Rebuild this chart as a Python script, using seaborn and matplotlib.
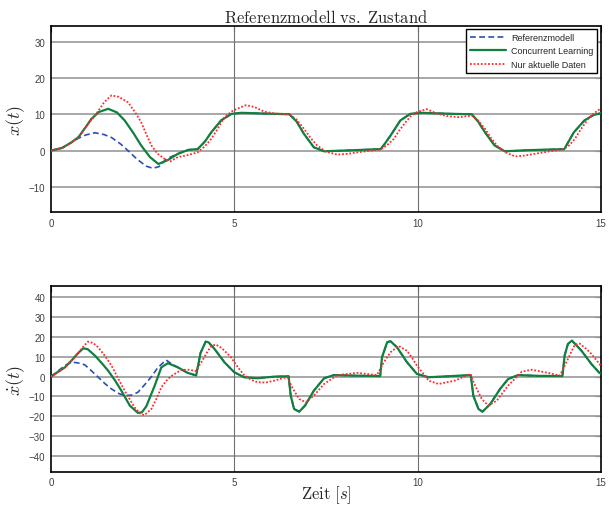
import numpy as np
import pandas as pd
import seaborn as sns
import matplotlib.pyplot as plt

# --- Werte ---
# x(t) oben
t_x_ref = [0.0, 0.3, 0.55, 0.75, 0.95, 1.2, 1.45, 1.65, 1.9, 2.1, 2.35, 2.6, 2.78, 2.95, 3.14, 3.3,
           3.46, 3.75, 4.0, 4.2, 4.37, 4.64, 4.92, 5.2, 5.8, 6.5, 6.7, 6.9, 7.17, 7.45, 8.0, 8.99,
           9.1, 9.26, 9.53, 9.8, 10.1, 11.0, 11.48, 11.65, 11.84, 12.1, 12.38, 13.0, 14.0,
           14.12, 14.26, 14.55, 14.8, 15.0]
x_ref = [0.0, 0.7, 2.2, 3.4, 4.3, 4.9, 4.4, 3.6, 1.8, 0.0, -2.4, -4.3, -4.9, -4.4, -2.4, -1.6,
         -0.9, 0.2, 0.4, 2.5, 5.0, 8.3, 10.1, 10.4, 10.2, 10.0, 8.0, 4.6, 0.9, -0.2, 0.0, 0.4,
         1.8, 4.1, 8.3, 10.1, 10.4, 10.1, 10.0, 8.0, 5.0, 1.4, -0.2, 0.1, 0.4,
         2.5, 5.0, 8.3, 9.8, 10.3]

t_x_cl = [0.0, 0.3, 0.55, 0.75, 0.95, 1.1, 1.3, 1.56, 1.8, 2.01, 2.25, 2.46, 2.7, 2.93, 3.19,
          3.46, 3.75, 4.0, 4.2, 4.37, 4.64, 4.92, 5.2, 5.8, 6.5, 6.7, 6.9, 7.17, 7.45, 8.0, 8.99,
          9.1, 9.26, 9.53, 9.8, 10.1, 11.0, 11.48, 11.65, 11.84, 12.1, 12.38, 13.0, 14.0,
          14.12, 14.26, 14.55, 14.8, 15.0]
x_cl = [0.0, 0.7, 2.2, 3.7, 6.5, 8.7, 10.6, 11.5, 10.5, 8.3, 4.8, 1.4, -1.8, -3.7, -2.6,
        -0.9, 0.2, 0.4, 2.5, 5.0, 8.3, 10.1, 10.4, 10.2, 10.0, 8.0, 4.6, 0.9, -0.2, 0.0, 0.4,
        1.8, 4.1, 8.3, 10.1, 10.4, 10.1, 10.0, 8.0, 5.0, 1.4, -0.2, 0.1, 0.4,
        2.5, 5.0, 8.3, 9.8, 10.3]

t_x_akt = [0.0, 0.3, 0.55, 0.75, 1.0, 1.2, 1.45, 1.65, 1.85, 2.1, 2.3, 2.46, 2.6, 2.74, 2.9,
           3.1, 3.25, 3.46, 3.75, 4.0, 4.2, 4.37, 4.55, 4.73, 4.95, 5.1, 5.32, 5.55, 5.82, 6.1,
           6.5, 6.7, 6.9, 7.08, 7.26, 7.5, 7.8, 8.1, 8.35, 8.99, 9.15, 9.35, 9.5, 9.67, 9.82,
           9.98, 10.25, 10.52, 10.8, 11.11, 11.48, 11.65, 11.84, 12.0, 12.16, 12.4, 12.66,
           12.9, 13.2, 13.6, 13.97, 14.12, 14.29, 14.45, 14.65, 14.8, 15.0]
x_akt = [0.0, 0.7, 2.2, 3.6, 7.2, 9.6, 13.3, 15.2, 14.8, 13.3, 10.5, 7.8, 4.5, 1.4, -0.8,
         -2.3, -3.0, -1.8, -1.2, -0.5, 1.2, 3.2, 6.0, 9.2, 10.9, 11.6, 12.5, 12.0, 10.7, 10.2,
         10.0, 8.5, 6.0, 3.5, 1.4, -0.3, -1.1, -0.9, -0.5, 0.3, 1.3, 3.2, 5.5, 7.8, 9.5,
         10.6, 11.4, 10.2, 9.5, 9.2, 9.6, 8.3, 6.0, 3.5, 1.4, -0.5, -1.6,
         -1.4, -0.9, -0.2, 0.3, 1.3, 3.2, 5.8, 8.7, 10.2, 11.6]

# xdot(t) unten
t_v_ref = [0.0, 0.2, 0.4, 0.56, 0.72, 0.92, 1.1, 1.29, 1.47, 1.65, 1.85, 2.01, 2.2, 2.37, 2.55,
           2.74, 2.92, 3.14, 3.3, 3.46, 3.73, 3.96, 4.08, 4.22, 4.3, 4.46, 4.73, 5.0, 5.27, 5.63,
           6.09, 6.48, 6.54, 6.63, 6.77, 6.93, 7.17, 7.45, 7.72, 8.3, 8.98, 9.03, 9.17, 9.26,
           9.44, 9.71, 9.98, 10.3, 10.84, 11.45, 11.52, 11.66, 11.77, 11.98, 12.25, 12.47,
           12.74, 13.3, 13.95, 14.01, 14.1, 14.21, 14.47, 14.74, 14.96, 15.0]
v_ref = [0.0, 3.0, 5.8, 7.3, 7.0, 6.0, 3.0, -0.3, -3.5, -6.2, -8.5, -9.6, -9.3, -7.9, -4.2,
         0.0, 4.7, 8.4, 6.3, 4.7, 1.9, 0.6, 12.0, 17.7, 17.3, 14.0, 7.3, 2.2, -0.3, -0.8,
         0.0, 0.2, -9.6, -16.3, -17.7, -14.6, -7.1, -0.8, 0.8, 0.5, 0.3, 9.8, 17.4, 17.9,
         14.8, 7.3, 1.4, -0.3, 0.2, 0.8, -9.6, -16.3, -17.7, -13.9, -6.2, -1.2,
         0.8, 0.4, 0.3, 10.6, 16.5, 18.2, 13.1, 6.4, 1.9, 1.6]

t_v_cl = [0.0, 0.2, 0.38, 0.56, 0.72, 0.88, 1.0, 1.2, 1.4, 1.56, 1.75, 1.92, 2.15, 2.37, 2.48,
          2.6, 2.83, 3.01, 3.19, 3.46, 3.73, 3.96, 4.08, 4.22, 4.3, 4.46, 4.73, 5.0, 5.27, 5.63,
          6.09, 6.48, 6.54, 6.63, 6.77, 6.93, 7.17, 7.45, 7.72, 8.3, 8.98, 9.03, 9.17, 9.26,
          9.44, 9.71, 9.98, 10.3, 10.84, 11.45, 11.52, 11.66, 11.77, 11.98, 12.25, 12.47,
          12.74, 13.3, 13.95, 14.01, 14.1, 14.21, 14.47, 14.74, 14.96, 15.0]
v_cl = [0.0, 2.5, 4.7, 8.1, 11.5, 14.3, 13.9, 10.6, 6.5, 3.0, -2.0, -7.1, -14.6, -18.3, -18.0,
        -15.0, -4.5, 4.7, 6.8, 4.7, 1.9, 0.6, 12.0, 17.7, 17.3, 14.0, 7.3, 2.2, -0.3, -0.8,
        0.0, 0.2, -9.6, -16.3, -17.7, -14.6, -7.1, -0.8, 0.8, 0.5, 0.3, 9.8, 17.4, 17.9,
        14.8, 7.3, 1.4, -0.3, 0.2, 0.8, -9.6, -16.3, -17.7, -13.9, -6.2, -1.2,
        0.8, 0.4, 0.3, 10.6, 16.5, 18.2, 13.1, 6.4, 1.9, 1.6]

t_v_akt = [0.0, 0.2, 0.38, 0.65, 0.85, 1.01, 1.15, 1.29, 1.47, 1.65, 1.82, 2.01, 2.15, 2.28,
           2.45, 2.55, 2.74, 2.88, 3.01, 3.15, 3.28, 3.55, 3.75, 3.95, 4.1, 4.25, 4.37, 4.5,
           4.65, 4.73, 4.9, 5.0, 5.15, 5.27, 5.45, 5.63, 5.85, 6.09, 6.45, 6.58, 6.77, 6.95,
           7.17, 7.45, 7.81, 8.35, 8.89, 9.08, 9.26, 9.48, 9.71, 9.85, 9.98, 10.16, 10.3,
           10.57, 11.02, 11.43, 11.57, 11.75, 11.93, 12.16, 12.47, 12.84, 13.11, 13.56, 13.88,
           14.1, 14.29, 14.42, 14.6, 14.74, 14.96, 15.0]
v_akt = [0.0, 2.5, 4.7, 9.8, 14.5, 17.7, 17.0, 14.8, 10.5, 5.6, -0.5, -7.1, -11.5, -15.5,
         -19.0, -19.4, -16.3, -11.0, -5.4, -2.0, 0.3, 3.4, 3.5, 2.9, 7.3, 12.0, 15.5, 16.2,
         14.5, 13.1, 10.0, 7.3, 3.5, 0.8, -1.5, -2.8, -3.0, -2.0, -0.2, -5.5, -11.3, -12.9,
         -9.6, -3.7, 0.8, 1.9, 0.8, 7.3, 12.3, 15.5, 13.1, 9.5, 5.6, 1.4, -2.0,
         -3.7, -2.0, 1.4, -4.5, -11.3, -14.6, -12.1, -4.5, 2.5, 3.5, 1.9, 0.5,
         8.9, 16.2, 16.7, 14.0, 11.5, 6.4, 5.5]

labels = ['Referenzmodell', 'Concurrent Learning', 'Nur aktuelle Daten']
farben = ['#2b4fb3', '#11803f', '#ff2a2a']
x_ticks = [0, 5, 10, 15]
y_ticks_oben = [-10, 0, 10, 20, 30]
y_ticks_unten = [-40, -30, -20, -10, 0, 10, 20, 30, 40]

sns.set_style('white')
plt.rcParams['font.family'] = ['Liberation Sans', 'DejaVu Sans']
plt.rcParams['mathtext.fontset'] = 'cm'

fig = plt.figure(figsize=(6.09, 5.10), dpi=100)
ax1 = fig.add_axes([0.0837, 0.5818, 0.903, 0.3659])
ax2 = fig.add_axes([0.0837, 0.0731, 0.903, 0.3635])

stile = [dict(linestyle=(0, (3.5, 2)), linewidth=1.2),
         dict(linestyle='-', linewidth=1.6),
         dict(linestyle=(0, (1, 1)), linewidth=1.3)]

serien_oben = [(t_x_ref, x_ref), (t_x_cl, x_cl), (t_x_akt, x_akt)]
serien_unten = [(t_v_ref, v_ref), (t_v_cl, v_cl), (t_v_akt, v_akt)]

for i, (t, y) in enumerate(serien_oben):
    df = pd.DataFrame({'t': t, 'y': y})
    sns.lineplot(data=df, x='t', y='y', ax=ax1, color=farben[i], label=labels[i],
                 sort=False, zorder=3 + i, **stile[i])
for i, (t, y) in enumerate(serien_unten):
    df = pd.DataFrame({'t': t, 'y': y})
    sns.lineplot(data=df, x='t', y='y', ax=ax2, color=farben[i], legend=False,
                 sort=False, zorder=3 + i, **stile[i])

for ax, yt, ylim in [(ax1, y_ticks_oben, (-17, 34.4)), (ax2, y_ticks_unten, (-48, 45.6))]:
    ax.set_xlim(0, 15)
    ax.set_ylim(*ylim)
    ax.set_xticks(x_ticks)
    ax.set_yticks(yt)
    for v in yt:
        ax.axhline(v, color='#a0a0a0', lw=1.3, zorder=1)
    for v in [5, 10]:
        ax.axvline(v, color='#707070', lw=0.8, zorder=1)
    ax.tick_params(direction='in', top=True, right=True, length=4, width=0.8,
                   labelsize=7, labelcolor='#404040', pad=4)
    for s in ax.spines.values():
        s.set_color('black')
        s.set_linewidth(1.2)
    ax.set_xlabel('')

ax1.set_ylabel(r'$x(t)$', fontsize=13)
ax2.set_ylabel(r'$\dot{x}(t)$', fontsize=13)
ax1.yaxis.set_label_coords(-0.043, 0.5)
ax2.yaxis.set_label_coords(-0.043, 0.5)
ax1.set_title(r'$\mathrm{Referenzmodell\ vs.\ Zustand}$', fontsize=12, pad=3)
ax2.set_xlabel(r'$\mathrm{Zeit}\ [s]$', fontsize=12)
ax2.xaxis.set_label_coords(0.5, -0.065)

leg = ax1.legend(loc='upper right', fontsize=6.5, handlelength=4, frameon=True,
                 fancybox=False, framealpha=1, edgecolor='black', borderaxespad=0.4,
                 borderpad=0.4, labelspacing=0.5, handletextpad=0.6)
leg.get_frame().set_linewidth(1.0)

fig.savefig('out.png', dpi=100)
